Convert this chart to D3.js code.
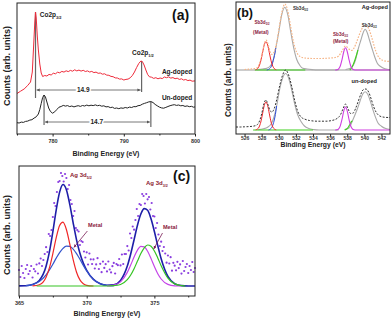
<!DOCTYPE html>
<html>
<head>
<meta charset="utf-8">
<script src="https://cdn.jsdelivr.net/npm/d3@7"></script>
<style>
  body { margin: 0; background: #fff; }
  svg { display: block; }
  text { font-family: "Liberation Sans", Arial, sans-serif; font-weight: bold; }
</style>
</head>
<body>
<svg width="392" height="322"></svg>
<script>
// ---------- panel (a): Co 2p spectra [binding energy eV, counts] ----------
const coAgDoped = [[775.0,40.5],[775.5,42.8],[776.0,45.0],[776.5,48.5],[776.9,52],[777.15,62],[777.35,90],[777.5,112],[777.6,122],[777.7,116],[777.85,98],[778.0,84],[778.2,70],[778.4,61],[778.6,57.5],[778.9,58.5],[779.2,58],[779.5,59.6],[779.8,59],[780.1,60.8],[780.4,60.2],[780.7,61.8],[781.0,61.2],[781.3,62.6],[781.6,61.9],[781.9,63.2],[782.2,62.4],[782.5,63.6],[782.8,62.8],[783.1,64.2],[783.4,63.1],[783.7,63.9],[784.0,62.9],[784.3,63.7],[784.6,62.5],[784.9,63.1],[785.2,62.0],[785.5,62.6],[785.8,61.4],[786.1,61.9],[786.4,60.7],[786.7,61.0],[787.0,59.8],[787.3,60.2],[787.6,58.9],[787.9,58.7],[788.2,57.6],[788.5,57.3],[788.8,56.1],[789.1,56.0],[789.4,54.9],[789.7,55.1],[790.0,54.0],[790.3,54.6],[790.6,54.9],[790.9,56.2],[791.2,58.5],[791.5,62],[791.8,66.5],[792.1,70.5],[792.4,73],[792.6,72.5],[792.85,69],[793.1,64],[793.35,59.5],[793.6,57.2],[793.9,56.8],[794.2,55.6],[794.5,56.3],[794.8,55.2],[795.1,56.0],[795.4,55.4],[795.7,57.0],[796.0,56.3],[796.3,57.1],[796.6,55.9],[796.9,56.4],[797.2,55.3],[797.5,55.8],[797.8,54.6],[798.1,55.2],[798.4,54.0],[798.7,54.5],[799.0,53.4],[799.3,53.9],[799.6,52.8],[800.0,53.1]];
const coUndoped = [[775.0,11.3],[775.3,11.0],[775.6,11.9],[775.9,11.6],[776.2,12.6],[776.5,12.9],[776.8,13.9],[777.1,14.3],[777.4,15.9],[777.7,17.2],[778.0,20],[778.2,24.5],[778.4,30.5],[778.6,36.5],[778.8,39],[779.0,37],[779.2,32],[779.45,26],[779.7,22.5],[780.0,20.8],[780.3,22.2],[780.6,24.5],[780.9,26.8],[781.2,27.5],[781.5,28.6],[781.8,27.9],[782.1,28.4],[782.4,27.4],[782.7,28.0],[783.0,27.1],[783.3,27.8],[783.6,28.3],[783.9,27.6],[784.2,28.5],[784.5,28.0],[784.8,28.9],[785.1,28.2],[785.4,28.8],[785.7,28.4],[786.0,29.1],[786.3,28.3],[786.6,28.7],[786.9,27.8],[787.2,28.2],[787.5,27.1],[787.8,27.4],[788.1,26.4],[788.4,26.8],[788.7,25.6],[789.0,26.0],[789.3,25.3],[789.6,26.1],[789.9,25.7],[790.2,26.5],[790.5,26.0],[790.8,26.9],[791.1,26.5],[791.4,27.4],[791.7,27.3],[792.0,28.3],[792.3,28.6],[792.6,29.8],[792.9,30.6],[793.2,31.3],[793.5,32.1],[793.8,32.4],[794.1,31.5],[794.4,29.6],[794.7,28.2],[795.0,26.9],[795.3,26.1],[795.6,25.8],[795.9,26.6],[796.2,27.5],[796.5,28.3],[796.8,28.9],[797.1,29.3],[797.4,28.6],[797.7,29.0],[798.0,28.2],[798.3,28.5],[798.6,27.6],[798.9,28.1],[799.2,27.3],[799.5,27.7],[799.8,26.8],[800.0,27.1]];
const coTicks = [780, 790, 800];
const coMinorTicks = [775, 785, 795];
// spin-orbit splitting marks: peak energies, peak counts, foot counts, arrow level
const splitAg = { peaks: [777.6, 792.5], tops: [122, 73], feet: [36, 42], level: 44, text: "14.9", textAt: 784.3 };
const splitUn = { peaks: [778.8, 793.8], tops: [39, 32.4], feet: [9, 7], level: 12, text: "14.7", textAt: 786.2 };

// ---------- panel (b): Sb 3d / O 1s ----------
const sbAgData = [[526.0,0.5],[526.5,0.8],[527.0,1.2],[527.4,2],[527.7,5.5],[528.0,14],[528.25,24],[528.5,30],[528.75,26],[529.0,18],[529.25,15.5],[529.5,19],[529.8,29],[530.1,45],[530.4,59],[530.7,66],[531.0,61],[531.3,48],[531.6,33],[531.9,22],[532.2,16],[532.6,13],[533.0,12],[534.0,11.5],[535.0,11.5],[536.0,12],[536.6,12.5],[537.0,14],[537.4,19],[537.8,24],[538.2,21],[538.5,19.5],[538.8,22],[539.1,28],[539.4,35],[539.7,41],[540.0,44.5],[540.3,44],[540.6,39.5],[540.9,31.5],[541.2,22.5],[541.5,15.5],[541.8,11.5],[542.2,9.5],[542.6,8.8],[543.0,8.5]];
const sbAgMain52 = [[527.5,0.4],[528.1,1],[528.6,1.8],[528.95,3.5],[529.3,8.5],[529.65,21.9],[530.0,38],[530.35,55.3],[530.7,62.7],[531.05,55.3],[531.4,38],[531.75,21.9],[532.1,10.5],[532.45,4.8],[532.8,1.8],[533.3,1],[533.9,0.4],[534.5,0],[537.0,0]];
const sbAgMain32 = [[537.8,0.5],[538.3,1.5],[538.7,4.5],[539.0,11],[539.3,21.5],[539.6,30],[539.85,37],[540.1,40.7],[540.35,37],[540.6,30],[540.9,21.5],[541.2,13.5],[541.5,7],[541.9,3.5],[542.4,1.2],[543.0,0.3]];
const sbAgBlue = [[528.6,0],[529.0,2],[529.2,5],[529.35,9.5],[529.5,14.5],[529.65,21.9]];
const sbAgGreen = [[527.2,0],[533.1,0],[533.2,null],[538.2,null],[538.3,0],[538.5,2],[538.7,5.5],[538.9,10],[539.1,15.5],[539.25,20]];
const sbAgMetal52 = [[527.3,0.3],[527.5,1.2],[527.7,3.8],[527.9,9.2],[528.1,17.2],[528.3,25],[528.5,28.3],[528.7,25],[528.9,17.2],[529.1,9.2],[529.3,3.8],[529.5,1.2],[529.7,0.3]];
const sbAgMetal32 = [[536.6,0],[536.8,0.2],[537.0,1.2],[537.2,4.3],[537.4,10.7],[537.6,18.5],[537.8,22.3],[538.0,18.5],[538.2,10.7],[538.4,4.3],[538.6,1.2],[538.8,0.2],[539.0,0],[543.0,0]];

const sbUnData = [[525.0,3],[525.5,3],[526.0,3.2],[526.5,3.4],[527.0,3.8],[527.4,4.8],[527.7,8],[528.0,16],[528.25,26],[528.5,30],[528.75,25],[529.0,19],[529.2,18],[529.45,21],[529.75,30],[530.1,44],[530.45,55],[530.8,60],[531.15,55],[531.5,44],[531.85,30],[532.2,19],[532.6,13],[533.0,11],[533.6,9.5],[534.5,8.8],[535.5,8.8],[536.2,9.5],[536.8,11.5],[537.2,15],[537.5,21],[537.8,26],[538.1,21],[538.4,16.5],[538.7,17],[539.0,22],[539.3,29],[539.6,36],[539.9,40.5],[540.2,41],[540.5,38],[540.8,31],[541.1,23],[541.4,17.5],[541.8,14],[542.3,12.8],[542.8,12.5],[543.0,12.5]];
const sbUnMain52 = [[527.6,0.4],[528.2,1.2],[528.7,2.8],[529.1,6],[529.4,12],[529.75,24],[530.1,40.5],[530.45,52],[530.8,56.5],[531.15,52],[531.5,40.5],[531.85,26.5],[532.2,15.5],[532.6,8.5],[533.0,4],[533.5,1.5],[534.1,0.4],[534.7,0],[537.0,0]];
const sbUnMain32 = [[537.7,0.5],[538.2,2],[538.6,9],[538.9,15],[539.2,21.5],[539.5,29],[539.8,35.7],[540.1,38.3],[540.4,35.7],[540.7,28.9],[541.0,20.3],[541.3,12.9],[541.6,7],[542.0,3.8],[542.5,1.4],[543.0,0.5]];
const sbUnBlue = [[528.8,0],[529.0,0.8],[529.2,2.8],[529.4,7.5],[529.55,13],[529.75,24]];
const sbUnGreen = [[527.0,0],[534.0,0],[534.1,null],[537.6,null],[537.7,0],[537.9,0.8],[538.1,2.5],[538.3,5.5],[538.5,8.5],[538.6,9]];
const sbUnMetal52 = [[527.3,0.2],[527.5,0.9],[527.7,3],[527.9,8],[528.1,16.1],[528.3,24.4],[528.5,28],[528.7,24.4],[528.9,16.1],[529.1,8],[529.3,3],[529.5,0.9],[529.7,0.2]];
const sbUnMetal32 = [[536.6,0],[536.8,0.2],[537.0,1.2],[537.2,4.4],[537.4,11],[537.6,19.1],[537.8,23],[538.0,19.1],[538.2,11],[538.4,4.4],[538.6,1.2],[538.8,0.2],[539.0,0],[543.0,0]];
const sbTicks = [526, 528, 530, 532, 534, 536, 538, 540, 542];

// ---------- panel (c): Ag 3d ----------
const agDotStart = 365, agDotStep = 0.1;
const agDots = [16,9,20,13,8,17,21,12,15,20,8.5,17,14.7,21.5,12.5,22.6,27.5,20,26,32,38.8,34,52,50,56,69,83,80,94,104,105,113,110,104.5,112,108,97,101,86,82,70,75,58,56,54.5,41,45,44,34.5,28.5,33.7,21.5,32.5,26.7,22,26.6,17.5,21.6,27.8,17,22.2,13.8,24.4,18.1,21.8,14.6,24.5,16.5,13.6,19.8,23.1,12.5,22,20.8,27,20.6,31.5,22,32,32,39.9,35.5,52.5,48,59.5,56.3,66,77,70,82,81,92,90,82.5,92,86.7,89,76.5,83,70,69.5,58,63,51.5,40,44.3,35,39,32.5,23.3,30.5,22.5,28.8,15.3,23.2,20.3,15.7,24.2,17.9,21.6,12.4,25,15,19,22,13,20,16,24,14,18];
const agEnvelope = [[365.0,0.1],[365.5,0.3],[366.0,1.5],[366.5,5.6],[367.0,19.8],[367.25,34.4],[367.5,54.2],[367.75,76.2],[368.0,93.9],[368.25,101.5],[368.5,96.3],[368.75,81.6],[369.0,63.2],[369.25,46.2],[369.5,32.8],[369.75,22.9],[370.0,15.7],[370.5,6.6],[371.0,2.2],[371.5,0.7],[372.0,1.2],[372.5,5.6],[373.0,19.9],[373.25,32],[373.5,46.3],[373.75,60.8],[374.0,72],[374.25,77.4],[374.5,75.7],[374.75,67.2],[375.0,54.5],[375.25,40.3],[375.5,27.3],[376.0,9.5],[376.5,2.3],[377.0,0.4],[377.5,0.05],[378.0,0]];
const ag52Oxide = [[366.0,0.1],[366.5,1.2],[367.0,8.7],[367.25,18.3],[367.5,32.4],[367.75,48.3],[368.0,60.5],[368.25,63.9],[368.5,56.5],[368.75,42],[369.0,26.3],[369.25,13.8],[369.5,6.1],[369.75,2.3],[370.0,0.7],[370.5,0]];
const ag52Metal = [[365.5,0.3],[366.0,1.4],[366.5,4.4],[367.0,11.1],[367.25,16.1],[367.5,21.8],[367.75,27.9],[368.0,33.4],[368.25,37.6],[368.5,39.8],[368.75,39.6],[369.0,36.9],[369.25,32.4],[369.5,26.7],[369.75,20.6],[370.0,15],[370.5,6.6],[371.0,2.2],[371.5,0.6],[372.0,0.1]];
const ag32Oxide = [[371.5,0.1],[372.0,0.8],[372.5,4.1],[373.0,13.6],[373.25,21],[373.5,29],[373.75,35.9],[374.0,39.6],[374.25,39.2],[374.5,34.7],[374.75,27.5],[375.0,19.5],[375.25,12.3],[375.5,7],[376.0,1.6],[376.5,0.2],[377.0,0]];
const ag32Metal = [[366.3,0],[371.5,0],[372.0,0.3],[372.5,1.5],[373.0,6.3],[373.25,11],[373.5,17.3],[373.75,24.9],[374.0,32.4],[374.25,38.2],[374.5,41],[374.75,39.7],[375.0,35],[375.25,28],[375.5,20.3],[376.0,7.9],[376.5,2.1],[377.0,0.4],[377.3,0]];
const agTicks = [365, 370, 375];
const agMinorTicks = [367.5, 372.5, 377.5];

// ---------- drawing ----------
const svg = d3.select("svg");
const defs = svg.append("defs");

function arrowMarker(id, color) {
  defs.append("marker")
    .attr("id", id)
    .attr("viewBox", "0 0 6 6")
    .attr("refX", 6).attr("refY", 3)
    .attr("markerWidth", 4).attr("markerHeight", 4)
    .attr("orient", "auto-start-reverse")
    .append("path").attr("d", "M0,0L6,3L0,6Z").attr("fill", color);
}
arrowMarker("arrGray", "#555");
arrowMarker("arrMetal", "#7a1d55");

function frame(x0, y0, x1, y1) {
  svg.append("rect").attr("x", x0).attr("y", y0).attr("width", x1 - x0).attr("height", y1 - y0)
    .attr("fill", "none").attr("stroke", "#222").attr("stroke-width", 1);
}

function bottomAxis(x, y, ticks, minor, pad, size) {
  const g = svg.append("g").attr("transform", `translate(0,${y})`)
    .call(d3.axisBottom(x).tickValues(ticks).tickSize(2.5).tickPadding(pad).tickFormat(d3.format("d")));
  g.select(".domain").remove();
  g.selectAll("line").attr("stroke", "#222");
  g.selectAll("text").attr("font-size", size).attr("fill", "#333")
    .attr("font-family", '"Liberation Sans", Arial, sans-serif').attr("font-weight", "bold");
  if (minor) {
    const m = svg.append("g").attr("transform", `translate(0,${y})`)
      .call(d3.axisBottom(x).tickValues(minor).tickSize(1.5).tickFormat(""));
    m.select(".domain").remove();
    m.selectAll("line").attr("stroke", "#222");
  }
}

function label(x, y, main, sub, size, color) {
  const t = svg.append("text").attr("x", x).attr("y", y).attr("font-size", size).attr("fill", color);
  t.append("tspan").text(main);
  if (sub) t.append("tspan").attr("font-size", size * 0.6).attr("dy", size * 0.3).text(sub);
  return t;
}

function axisTitle(x, y, text, size) {
  svg.append("text").attr("x", x).attr("y", y).attr("text-anchor", "middle")
    .attr("font-size", size).attr("fill", "#222").text(text);
}

function yTitle(x, y, size) {
  svg.append("text").attr("transform", `translate(${x},${y}) rotate(-90)`)
    .attr("text-anchor", "middle").attr("dy", "0.35em")
    .attr("font-size", size).attr("fill", "#222").text("Counts (arb. units)");
}

function draw(data, line, color, width, dash) {
  svg.append("path").datum(data).attr("d", line).attr("fill", "none")
    .attr("stroke", color).attr("stroke-width", width)
    .attr("stroke-dasharray", dash || null);
}

// ----- (a) -----
const xA = d3.scaleLinear().domain([775, 800]).range([17, 195]);
const yA = d3.scaleLinear().domain([0, 131]).range([134, 3]);
const lineA = d3.line().x(d => xA(d[0])).y(d => yA(d[1]));

[splitAg, splitUn].forEach(s => {
  s.peaks.forEach((e, i) => {
    svg.append("line").attr("x1", xA(e)).attr("x2", xA(e))
      .attr("y1", yA(s.tops[i])).attr("y2", yA(s.feet[i]))
      .attr("stroke", "#666").attr("stroke-width", 1.2);
  });
  svg.append("line").attr("x1", xA(s.peaks[0]) + 1).attr("x2", xA(s.peaks[1]) - 1)
    .attr("y1", yA(s.level)).attr("y2", yA(s.level))
    .attr("stroke", "#555").attr("stroke-width", 0.8)
    .attr("marker-start", "url(#arrGray)").attr("marker-end", "url(#arrGray)");
  svg.append("text").attr("x", xA(s.textAt)).attr("y", yA(s.level)).attr("dy", "0.35em")
    .attr("text-anchor", "middle").attr("font-size", 6.5).attr("fill", "#222")
    .attr("stroke", "#fff").attr("stroke-width", 3).attr("paint-order", "stroke").text(s.text);
});

draw(coAgDoped, lineA, "#ee2a3a", 1);
draw(coUndoped, lineA, "#222", 1);

frame(17, 3, 195, 134);
bottomAxis(xA, 134, coTicks, coMinorTicks, 3, 5.5);
axisTitle(106, 155.5, "Binding Energy (eV)", 7);
yTitle(7, 66, 9);
label(xA(778.2), yA(117), "Co2p", "3/2", 6.5, "#222");
label(xA(791.15), yA(79), "Co2p", "1/2", 6.5, "#222");
label(xA(795.35), yA(60), "Ag-doped", null, 6.5, "#222");
label(xA(795.35), yA(34), "Un-doped", null, 6.5, "#222");
label(172, 20, "(a)", null, 14, "#111");

// ----- (b) -----
const xB = d3.scaleLinear().domain([525, 543]).range([236, 390]);
const yBup = d3.scaleLinear().domain([0, 68]).range([70, 2]);
const yBlow = d3.scaleLinear().domain([-4, 60]).range([134, 70]);
const lineUp = d3.line().defined(d => d[1] != null).x(d => xB(d[0])).y(d => yBup(d[1])).curve(d3.curveMonotoneX);
const lineLow = d3.line().defined(d => d[1] != null).x(d => xB(d[0])).y(d => yBlow(d[1])).curve(d3.curveMonotoneX);

const sbGray = "#a9a9a9", sbRed = "#f0262a", sbBlue = "#2f4fd8", sbGreen = "#3fd01e", sbPink = "#cf3fe0";

svg.append("line").attr("x1", 236).attr("x2", 390).attr("y1", 70).attr("y2", 70)
  .attr("stroke", "#9a9a9a").attr("stroke-width", 1);

draw(sbAgMain52, lineUp, sbGray, 1.1);
draw(sbAgMain32, lineUp, sbGray, 1.1);
draw(sbAgGreen, lineUp, sbGreen, 1.1);
draw(sbAgBlue, lineUp, sbBlue, 1);
draw(sbAgMetal52, lineUp, sbRed, 1);
draw(sbAgMetal32, lineUp, sbPink, 1.1);
draw(sbAgData, lineUp, "#f6b587", 1.2, "1.6,1.4");

draw(sbUnMain52, lineLow, sbGray, 1.1);
draw(sbUnMain32, lineLow, sbGray, 1.1);
draw(sbUnGreen, lineLow, sbGreen, 1.1);
draw(sbUnBlue, lineLow, sbBlue, 1);
draw(sbUnMetal52, lineLow, sbRed, 1);
draw(sbUnMetal32, lineLow, sbPink, 1.1);
draw(sbUnData, lineLow, "#333", 1, "2,1.5");

frame(236, 2, 390, 134);
bottomAxis(xB, 134, sbTicks, null, 0, 5);
axisTitle(313, 147, "Binding Energy (eV)", 6.8);
yTitle(228, 80, 8.3);
label(237, 17, "(b)", null, 12.5, "#111");
label(xB(539.7), yBup(61), "Ag-doped", null, 5.6, "#222");
label(xB(538.5), yBlow(47), "un-doped", null, 5.6, "#222");
label(xB(531.66), yBup(60), "Sb3d", "5/2", 4.6, "#333");
label(xB(539.7), yBup(43), "Sb3d", "3/2", 4.6, "#333");
label(xB(527.15), yBup(46), "Sb3d", "5/2", 4.6, "#8b1a40");
label(xB(527.0), yBup(36), "(Metal)", null, 4.8, "#8b1a40");
label(xB(536.34), yBup(34), "Sb3d", "3/2", 4.6, "#8b1a40");
label(xB(536.34), yBup(27), "(Metal)", null, 4.8, "#8b1a40");

// ----- (c) -----
const xC = d3.scaleLinear().domain([365, 378]).range([19, 195]);
const yC = d3.scaleLinear().domain([-10, 120]).range([296, 166]);
const lineC = d3.line().x(d => xC(d[0])).y(d => yC(d[1])).curve(d3.curveMonotoneX);

svg.append("g").selectAll("circle").data(agDots).join("circle")
  .attr("cx", (d, i) => xC(agDotStart + i * agDotStep))
  .attr("cy", d => yC(d))
  .attr("r", 1.1).attr("fill", "#8a3ee0");

draw(agEnvelope, lineC, "#1e1ea8", 1.6);
draw(ag52Metal, lineC, "#3454cc", 1.2);
draw(ag52Oxide, lineC, "#f02828", 1.2);
draw(ag32Oxide, lineC, "#c545e8", 1.2);
draw(ag32Metal, lineC, "#36c424", 1.2);

svg.append("line").attr("x1", xC(370.05)).attr("y1", yC(55)).attr("x2", xC(369.05)).attr("y2", yC(38.5))
  .attr("stroke", "#7a1d55").attr("stroke-width", 0.8).attr("marker-end", "url(#arrMetal)");
svg.append("line").attr("x1", xC(375.6)).attr("y1", yC(53)).attr("x2", xC(374.95)).attr("y2", yC(37))
  .attr("stroke", "#7a1d55").attr("stroke-width", 0.8).attr("marker-end", "url(#arrMetal)");

frame(19, 166, 195, 296);
bottomAxis(xC, 296, agTicks, agMinorTicks, 2.5, 5.5);
axisTitle(107, 315.5, "Binding Energy (eV)", 7);
yTitle(7, 235, 9);
label(173, 181, "(c)", null, 14, "#111");
label(xC(368.77), yC(109), "Ag 3d", "5/2", 6, "#8b1a30");
label(xC(374.38), yC(101), "Ag 3d", "3/2", 6, "#8b1a30");
label(xC(370.1), yC(59), "Metal", null, 5.6, "#8b1a40");
label(xC(375.63), yC(57), "Metal", null, 5.6, "#8b1a40");
</script>
</body>
</html>
